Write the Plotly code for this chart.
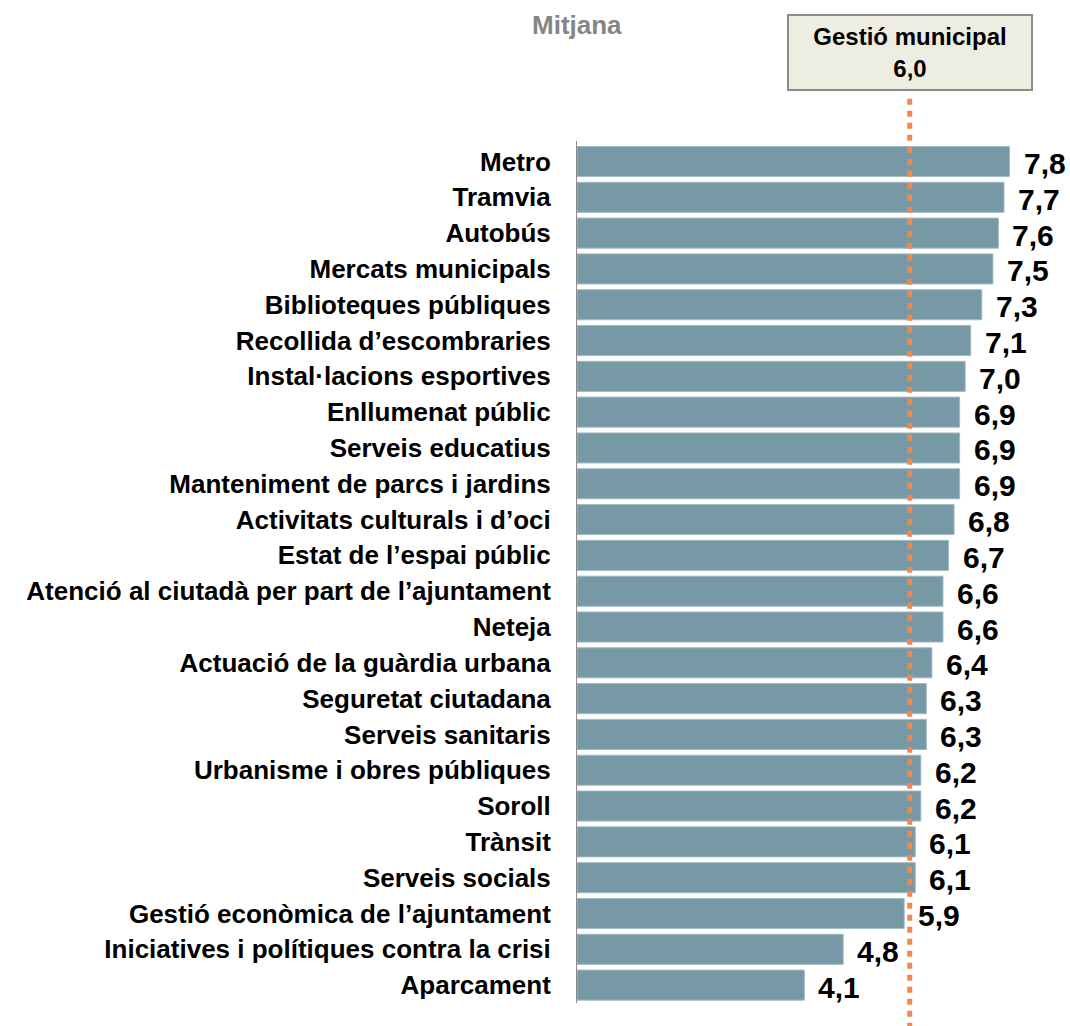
import plotly.graph_objects as go

# Valoració mitjana dels serveis municipals
services = [
    "Metro", "Tramvia", "Autobús", "Mercats municipals", "Biblioteques públiques",
    "Recollida d’escombraries", "Instal·lacions esportives", "Enllumenat públic",
    "Serveis educatius", "Manteniment de parcs i jardins", "Activitats culturals i d’oci",
    "Estat de l’espai públic", "Atenció al ciutadà per part de l’ajuntament", "Neteja",
    "Actuació de la guàrdia urbana", "Seguretat ciutadana", "Serveis sanitaris",
    "Urbanisme i obres públiques", "Soroll", "Trànsit", "Serveis socials",
    "Gestió econòmica de l’ajuntament", "Iniciatives i polítiques contra la crisi",
    "Aparcament",
]
scores = [7.8, 7.7, 7.6, 7.5, 7.3, 7.1, 7.0, 6.9, 6.9, 6.9, 6.8, 6.7, 6.6, 6.6,
          6.4, 6.3, 6.3, 6.2, 6.2, 6.1, 6.1, 5.9, 4.8, 4.1]
municipal_mean = 6.0

def fmt(v):
    return f"{v:.1f}".replace(".", ",")

FONT = "Liberation Sans, Arial, sans-serif"

fig = go.Figure(go.Bar(
    x=scores, y=services, orientation="h",
    marker=dict(color="#7799A5", line=dict(color="#A3BBC3", width=1)),
    hoverinfo="skip",
))

# value labels to the right of each bar
for s, v in zip(services, scores):
    fig.add_annotation(x=v, y=s, text=f"<b>{fmt(v)}</b>", showarrow=False,
                       xanchor="left", yanchor="middle", xshift=12, yshift=-2,
                       font=dict(family=FONT, size=30, color="black"))

# reference line for the overall mean
fig.add_shape(type="line", xref="x", yref="paper", x0=municipal_mean, x1=municipal_mean,
              y0=-0.03, y1=1.053, line=dict(color="#F4884A", width=5, dash="6px,6px"))

fig.add_annotation(xref="x", yref="paper", x=municipal_mean, y=1.103,
                   text=f"<b>Gestió municipal<br>{fmt(municipal_mean)}</b>",
                   showarrow=False, xanchor="center", yanchor="middle",
                   width=240, height=71, bgcolor="#EEEDE1", bordercolor="#8C8C8C",
                   borderwidth=2, font=dict(family=FONT, size=24, color="black"))

fig.add_annotation(xref="paper", yref="paper", x=0.0, y=1.134, text="<b>Mitjana</b>",
                   showarrow=False, xanchor="center", yanchor="middle",
                   font=dict(family=FONT, size=26, color="#858585"))

fig.update_layout(
    width=1070, height=1026,
    margin=dict(l=577, r=5, t=141, b=23),
    plot_bgcolor="white", paper_bgcolor="white",
    bargap=0.16, showlegend=False,
    font=dict(family=FONT),
    xaxis=dict(range=[0, 8.8], visible=False, fixedrange=True),
    yaxis=dict(autorange="reversed", showline=True, linecolor="#8C8C8C", linewidth=1,
               ticks="outside", ticklen=20, tickcolor="rgba(0,0,0,0)",
               tickfont=dict(family=FONT, size=26, color="black"),
               showgrid=False, fixedrange=True),
)
fig.update_yaxes(tickprefix="<b>", ticksuffix="</b>")

fig.write_html("out.html")
